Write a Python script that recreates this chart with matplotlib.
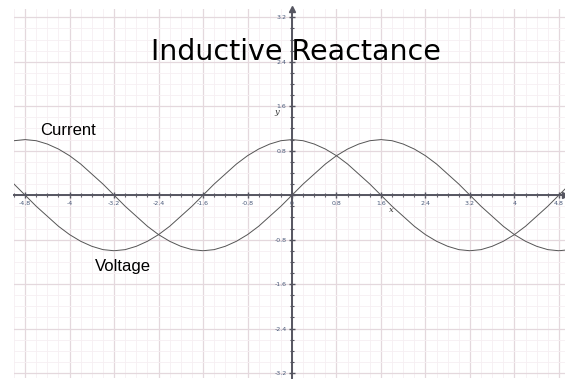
import matplotlib.pyplot as plt
from matplotlib.ticker import MultipleLocator, FuncFormatter

# sample positions along x (step 0.2) and the two waves
x = [-5.0, -4.8, -4.6, -4.4, -4.2, -4.0, -3.8, -3.6, -3.4, -3.2,
     -3.0, -2.8, -2.6, -2.4, -2.2, -2.0, -1.8, -1.6, -1.4, -1.2,
     -1.0, -0.8, -0.6, -0.4, -0.2, 0.0, 0.2, 0.4, 0.6, 0.8,
     1.0, 1.2, 1.4, 1.6, 1.8, 2.0, 2.2, 2.4, 2.6, 2.8,
     3.0, 3.2, 3.4, 3.6, 3.8, 4.0, 4.2, 4.4, 4.6, 4.8, 5.0]

voltage = [0.20, 0.00, -0.20, -0.38, -0.56, -0.71, -0.83, -0.92, -0.98, -1.00,
           -0.98, -0.92, -0.83, -0.71, -0.56, -0.38, -0.20, 0.00, 0.20, 0.38,
           0.56, 0.71, 0.83, 0.92, 0.98, 1.00, 0.98, 0.92, 0.83, 0.71,
           0.56, 0.38, 0.20, 0.00, -0.20, -0.38, -0.56, -0.71, -0.83, -0.92,
           -0.98, -1.00, -0.98, -0.92, -0.83, -0.71, -0.56, -0.38, -0.20, 0.00, 0.20]

current = [0.98, 1.00, 0.98, 0.92, 0.83, 0.71, 0.56, 0.38, 0.20, 0.00,
           -0.20, -0.38, -0.56, -0.71, -0.83, -0.92, -0.98, -1.00, -0.98, -0.92,
           -0.83, -0.71, -0.56, -0.38, -0.20, 0.00, 0.20, 0.38, 0.56, 0.71,
           0.83, 0.92, 0.98, 1.00, 0.98, 0.92, 0.83, 0.71, 0.56, 0.38,
           0.20, 0.00, -0.20, -0.38, -0.56, -0.71, -0.83, -0.92, -0.98, -1.00, -0.98]

fig = plt.figure(figsize=(5.65, 3.8), dpi=100)
ax = fig.add_axes([14/565, 2/380, 551/565, 369/380])
ax.set_xlim(-5.0, 4.91)
ax.set_ylim(-3.29, 3.35)

# grid
ax.xaxis.set_major_locator(MultipleLocator(0.8))
ax.yaxis.set_major_locator(MultipleLocator(0.8))
ax.xaxis.set_minor_locator(MultipleLocator(0.2))
ax.yaxis.set_minor_locator(MultipleLocator(0.2))
ax.grid(which='major', color='#e4d8dd', lw=0.9)
ax.grid(which='minor', color='#f6eff2', lw=0.6)
ax.set_axisbelow(True)

# axes through the origin
for s in ['top', 'right']:
    ax.spines[s].set_visible(False)
for s in ['left', 'bottom']:
    ax.spines[s].set_position('zero')
    ax.spines[s].set_color('#555560')
    ax.spines[s].set_linewidth(1.4)
ax.plot(1, 0, '>', color='#555560', ms=4, transform=ax.get_yaxis_transform(), clip_on=False)
ax.plot(0, 1, '^', color='#555560', ms=4, transform=ax.get_xaxis_transform(), clip_on=False)

fmt_x = FuncFormatter(lambda v, p: '%g' % round(v, 1))
fmt_y = FuncFormatter(lambda v, p: '' if abs(v) < 1e-9 else '%g' % round(v, 1))
ax.xaxis.set_major_formatter(fmt_x)
ax.yaxis.set_major_formatter(fmt_y)
ax.tick_params(which='major', direction='inout', length=4, width=1, color='#555560',
               labelsize=4.5, labelcolor='#4a5a7a', pad=2)
ax.tick_params(which='minor', direction='inout', length=2.5, width=0.8, color='#555560')

ax.plot(x, voltage, color='#555555', lw=0.7)
ax.plot(x, current, color='#555555', lw=0.7)

ax.text(1.78, -0.26, 'x', fontsize=6, family='serif', style='italic', color='#333',
        ha='center', va='center')
ax.text(-0.27, 1.49, 'y', fontsize=6, family='serif', style='italic', color='#333',
        ha='center', va='center')

ax.text(0.07, 2.57, 'Inductive Reactance', fontsize=20.5, ha='center', va='center',
        family='DejaVu Sans', color='black')
ax.text(-4.53, 1.17, 'Current', fontsize=12, family='Liberation Sans', ha='left', va='center')
ax.text(-3.54, -1.28, 'Voltage', fontsize=12, family='Liberation Sans', ha='left', va='center')

fig.savefig('out.png', dpi=100)
